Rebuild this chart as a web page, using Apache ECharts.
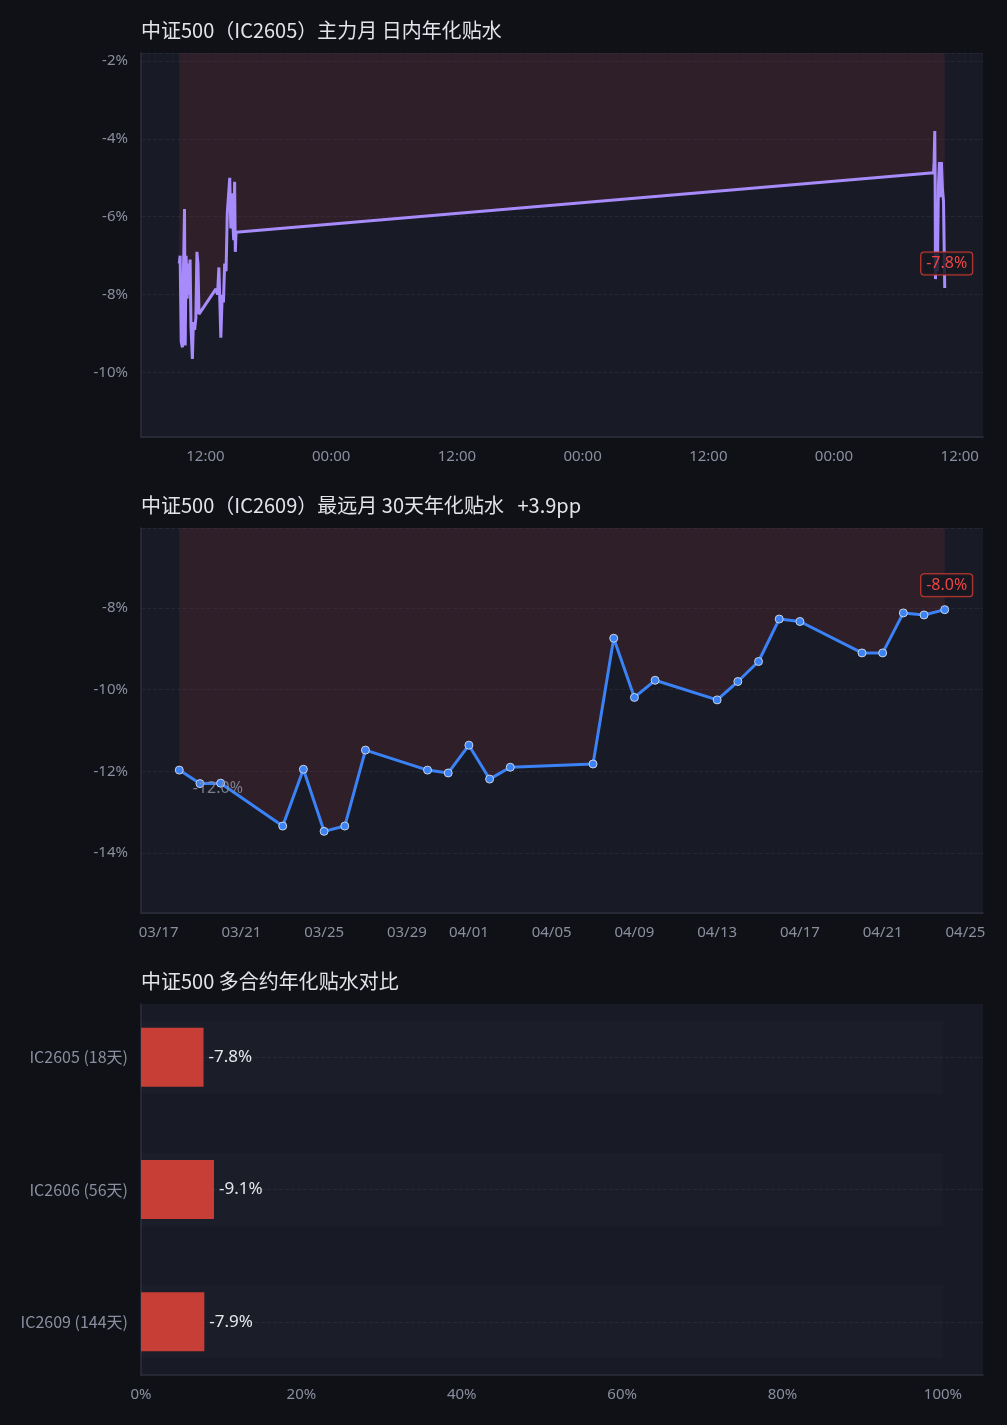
<!DOCTYPE html>
<html>
<head>
<meta charset="utf-8">
<title>中证500 年化贴水</title>
<script src="https://cdn.jsdelivr.net/npm/echarts@6/dist/echarts.min.js"></script>
<style>
    html, body { margin: 0; padding: 0; background: #101116; }
    #main { width: 1007px; height: 1425px; }
</style>
</head>
<body>
<div id="main"></div>
<script>
// IC2605 主力月 日内年化贴水 (%)
var intradayTimes = [
    '2026-04-21 09:30', '2026-04-21 09:35', '2026-04-21 09:41', '2026-04-21 09:48', '2026-04-21 09:54',
    '2026-04-21 10:00', '2026-04-21 10:04', '2026-04-21 10:09', '2026-04-21 10:15', '2026-04-21 10:21',
    '2026-04-21 10:26', '2026-04-21 10:32', '2026-04-21 10:37', '2026-04-21 10:45', '2026-04-21 10:51',
    '2026-04-21 10:58', '2026-04-21 11:05', '2026-04-21 11:11', '2026-04-21 11:17', '2026-04-21 11:23',
    '2026-04-21 11:30', '2026-04-21 13:00', '2026-04-21 13:09', '2026-04-21 13:17', '2026-04-21 13:28',
    '2026-04-21 13:36', '2026-04-21 13:43', '2026-04-21 13:50', '2026-04-21 13:58', '2026-04-21 14:05',
    '2026-04-21 14:13', '2026-04-21 14:19', '2026-04-21 14:25', '2026-04-21 14:31', '2026-04-21 14:36',
    '2026-04-21 14:42', '2026-04-21 14:47', '2026-04-21 14:51', '2026-04-21 14:55', '2026-04-21 15:00',
    '2026-04-24 09:30', '2026-04-24 09:33', '2026-04-24 09:37', '2026-04-24 09:39', '2026-04-24 09:41',
    '2026-04-24 09:47', '2026-04-24 09:52', '2026-04-24 09:58', '2026-04-24 10:04', '2026-04-24 10:09',
    '2026-04-24 10:15', '2026-04-24 10:21', '2026-04-24 10:27', '2026-04-24 10:34'
];
var intradayBasis = [
    -7.20, -7.00, -9.20, -9.35, -7.40,
    -5.80, -9.30, -7.00, -8.10, -7.20,
    -8.00, -7.10, -8.80, -9.65, -8.70,
    -8.90, -8.60, -6.90, -7.20, -8.50,
    -8.50, -7.85, -8.00, -7.30, -9.10,
    -8.00, -8.20, -7.20, -7.40, -5.90,
    -5.40, -5.00, -6.30, -5.40, -6.10,
    -6.60, -5.10, -6.90, -6.40, -6.40,
    -4.87, -4.60, -3.80, -5.00, -7.60,
    -6.00, -7.40, -5.20, -4.60, -5.50,
    -4.60, -5.30, -5.60, -7.83
];

// IC2609 最远月 30天年化贴水 (%)
var farDates = [
    '2026-03-18', '2026-03-19', '2026-03-20', '2026-03-23', '2026-03-24', '2026-03-25', '2026-03-26',
    '2026-03-27', '2026-03-30', '2026-03-31', '2026-04-01', '2026-04-02', '2026-04-03', '2026-04-07',
    '2026-04-08', '2026-04-09', '2026-04-10', '2026-04-13', '2026-04-14', '2026-04-15', '2026-04-16',
    '2026-04-17', '2026-04-20', '2026-04-21', '2026-04-22', '2026-04-23', '2026-04-24'
];
var farBasis = [
    -11.97, -12.30, -12.29, -13.34, -11.95, -13.47, -13.34,
    -11.48, -11.97, -12.04, -11.36, -12.19, -11.90, -11.82,
    -8.74, -10.19, -9.77, -10.25, -9.80, -9.31, -8.27,
    -8.33, -9.10, -9.10, -8.12, -8.17, -8.04
];

// 多合约对比
var contracts = ['IC2605 (18天)', 'IC2606 (56天)', 'IC2609 (144天)'];
var contractBasis = [-7.8, -9.1, -7.9];
var trackMax = 100;

var xTicks = ['0%', '20%', '40%', '60%', '80%', '100%'];

function toTs(s) {
    return new Date(s.replace(' ', 'T')).getTime();
}
function pairs(times, vals) {
    return times.map(function (t, i) { return [toTs(t), vals[i]]; });
}
function pct(v) { return v.toFixed(1) + '%'; }

var FONT = '"Noto Sans", "Noto Sans CJK SC", sans-serif';
var TITLE_FONT = '"Noto Sans CJK KR"';
var labelColor = '#8a8fa0';
var axisLineColor = '#2b2f3b';
var splitColor = '#232634';
var areaRed = 'rgba(239,68,68,0.15)';

var chart = echarts.init(document.getElementById('main'));

var lastI = intradayTimes.length - 1;
var lastF = farDates.length - 1;
var farChange = farBasis[lastF] - farBasis[0];

function padTime(v) { return (v.max - v.min) * 0.05; }

function timeAxis(idx, fmt, split) {
    return {
        type: 'time',
        gridIndex: idx,
        min: function (v) { return v.min - padTime(v); },
        max: function (v) { return v.max + padTime(v); },
        splitNumber: split,
        axisLine: { show: true, lineStyle: { color: axisLineColor, width: 1.5 } },
        axisTick: { show: false },
        splitLine: { show: false },
        axisLabel: { color: labelColor, fontSize: 15, fontFamily: FONT, margin: 12, formatter: fmt, hideOverlap: false }
    };
}

function valueAxis(idx) {
    return {
        type: 'value',
        gridIndex: idx,
        min: function (v) { return v.min - 2; },
        max: function (v) { return v.max + 2; },
        axisLine: { show: true, lineStyle: { color: axisLineColor, width: 1.5 } },
        axisTick: { show: false },
        splitLine: { show: true, lineStyle: { color: splitColor, type: 'dashed' } },
        axisLabel: {
            color: labelColor, fontSize: 15, fontFamily: FONT, margin: 13,
            showMinLabel: false, showMaxLabel: false,
            formatter: '{value}%'
        }
    };
}

var lastLabel = {
    show: true,
    position: 'top',
    distance: 13,
    offset: [2, 0],
    color: '#ef4444',
    fontSize: 16,
    fontFamily: FONT,
    borderColor: '#d03a32',
    borderWidth: 1,
    borderRadius: 3,
    padding: [3, 5],
    backgroundColor: 'rgba(22,24,33,0.85)',
    formatter: function (p) { return pct(p.value); }
};

var option = {
    backgroundColor: '#101116',
    animation: false,
    textStyle: { fontFamily: FONT },
    title: [
        { text: '中证500（IC2605）主力月 日内年化贴水', left: 141, top: 20 },
        { text: '中证500（IC2609）最远月 30天年化贴水   ' + (farChange >= 0 ? '+' : '') + farChange.toFixed(1) + 'pp', left: 141, top: 495 },
        { text: '中证500 多合约年化贴水对比', left: 141, top: 971 }
    ].map(function (t) {
        t.padding = 0;
        t.textStyle = { color: '#e2e4ea', fontSize: 20, fontWeight: 'normal', fontFamily: TITLE_FONT };
        return t;
    }),
    grid: [
        { left: 141, right: 24, top: 53, height: 384, show: true, backgroundColor: '#181b26', borderWidth: 0 },
        { left: 141, right: 24, top: 528, height: 385, show: true, backgroundColor: '#181b26', borderWidth: 0 },
        { left: 141, right: 24, top: 991, height: 397, show: false },
        { left: 141, right: 24, top: 1004, height: 371, show: true, backgroundColor: '#181b26', borderWidth: 0 }
    ],
    xAxis: [
        timeAxis(0, '{HH}:{mm}', 5),
        timeAxis(1, '{MM}/{dd}', 10),
        { type: 'value', gridIndex: 2, min: 0, max: 105, show: false },
        {
            type: 'value', gridIndex: 3, min: 0, max: 105, interval: 20,
            axisLine: { show: true, lineStyle: { color: axisLineColor, width: 1.5 } },
            axisTick: { show: false },
            splitLine: { show: false },
            axisLabel: {
                color: labelColor, fontSize: 15, fontFamily: FONT, margin: 12, showMaxLabel: false,
                formatter: function (v) { return xTicks[v / 20]; }
            }
        }
    ],
    yAxis: [
        valueAxis(0),
        valueAxis(1),
        {
            type: 'category', gridIndex: 2, data: contracts, inverse: true,
            axisLine: { show: false }, axisTick: { show: false },
            axisLabel: { color: labelColor, fontSize: 16, fontFamily: '"Noto Sans CJK SC"', margin: 13 },
            splitLine: { show: true, alignWithLabel: true, lineStyle: { color: splitColor, type: 'dashed' } }
        },
        {
            type: 'category', gridIndex: 3, data: contracts, inverse: true,
            axisLine: { show: true, lineStyle: { color: axisLineColor, width: 1.5 } },
            axisTick: { show: false }, axisLabel: { show: false }, splitLine: { show: false }
        },
        { type: 'category', gridIndex: 2, data: contracts, inverse: true, position: 'right', show: false }
    ],
    series: [
        {
            type: 'line',
            xAxisIndex: 0, yAxisIndex: 0,
            data: pairs(intradayTimes, intradayBasis),
            showSymbol: false,
            lineStyle: { color: '#a78bfa', width: 3 },
            itemStyle: { color: '#a78bfa' },
            areaStyle: { color: areaRed },
            emphasis: { disabled: true },
            markPoint: {
                symbol: 'circle', symbolSize: 1,
                itemStyle: { color: 'rgba(0,0,0,0)' },
                label: lastLabel,
                data: [{ coord: [toTs(intradayTimes[lastI]), intradayBasis[lastI]], value: intradayBasis[lastI] }]
            }
        },
        {
            type: 'line',
            xAxisIndex: 1, yAxisIndex: 1,
            data: pairs(farDates, farBasis),
            symbol: 'circle', symbolSize: 8, showSymbol: true,
            lineStyle: { color: '#3b82f6', width: 3 },
            itemStyle: { color: '#3b82f6', borderColor: '#c9d3e3', borderWidth: 1 },
            areaStyle: { color: areaRed },
            emphasis: { disabled: true },
            markPoint: {
                symbol: 'circle', symbolSize: 1,
                itemStyle: { color: 'rgba(0,0,0,0)' },
                data: [
                    {
                        coord: [toTs(farDates[lastF]), farBasis[lastF]], value: farBasis[lastF],
                        label: lastLabel
                    },
                    {
                        coord: [toTs(farDates[0]), farBasis[0]], value: farBasis[0],
                        label: {
                            show: true, position: [14, 11], color: 'rgba(138,143,160,0.85)',
                            fontSize: 16, fontFamily: FONT,
                            formatter: function (p) { return pct(p.value); }
                        }
                    }
                ]
            }
        },
        {
            type: 'bar',
            xAxisIndex: 2, yAxisIndex: 4,
            data: contracts.map(function () { return trackMax; }),
            barWidth: 73,
            silent: true,
            itemStyle: { color: 'rgba(255,255,255,0.016)' }
        },
        {
            type: 'bar',
            xAxisIndex: 2, yAxisIndex: 2,
            data: contractBasis.map(function (v) { return Math.abs(v); }),
            barWidth: 59,
            itemStyle: { color: '#c73e37' },
            emphasis: { disabled: true },
            label: {
                show: true, position: 'right', distance: 5,
                color: '#e5e7eb', fontSize: 17, fontFamily: FONT,
                formatter: function (p) { return pct(contractBasis[p.dataIndex]); }
            }
        }
    ]
};

chart.setOption(option);
</script>
</body>
</html>
